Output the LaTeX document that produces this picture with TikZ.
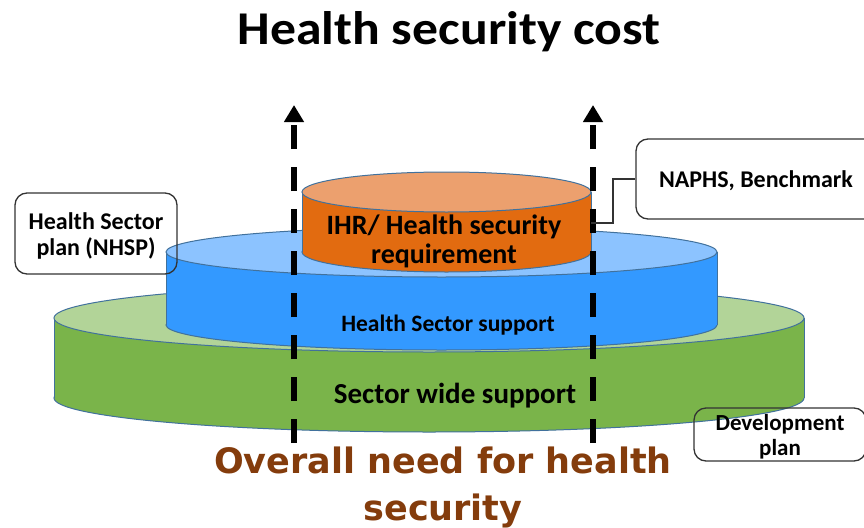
\documentclass[tikz,border=0pt]{standalone}
\usepackage{fontspec}
\setmainfont{Carlito}
\newfontfamily\wideb{DejaVu Sans}
\usetikzlibrary{arrows.meta}
\definecolor{edgec}{HTML}{41719C}
\definecolor{greenside}{HTML}{7AB44A}
\definecolor{greentop}{HTML}{B2D498}
\definecolor{blueside}{HTML}{3399FF}
\definecolor{bluetop}{HTML}{8CC3FF}
\definecolor{orangeside}{HTML}{E26B10}
\definecolor{orangetop}{HTML}{ECA06E}
\definecolor{brownt}{HTML}{843C0C}
\definecolor{boxline}{HTML}{333333}
\newcommand\mycyl[7]{%
  \filldraw[fill=#6,draw=edgec,line width=1pt] (#1,#5) ellipse [x radius=#2, y radius=#3];
  \fill[#6] ({#1-#2},#4) rectangle ({#1+#2},#5);
  \draw[edgec,line width=1pt] ({#1-#2},#4) -- ({#1-#2},#5) ({#1+#2},#4) -- ({#1+#2},#5);
  \filldraw[fill=#7,draw=edgec,line width=1pt] (#1,#4) ellipse [x radius=#2, y radius=#3];
}
\tikzset{
  callout/.style={draw=boxline,line width=1.3pt,rounded corners=12pt,inner sep=0pt,align=center},
  dasharrow/.style={line width=5.5pt,dash pattern=on 24pt off 18pt,-{Triangle[width=19pt,length=17pt]}},
  cyltext/.style={inner sep=0pt,anchor=base,align=center,font=\bfseries},
  conn/.style={draw=boxline,line width=1.2pt},
}
\begin{document}
\begin{tikzpicture}[x=1pt,y=-1pt]
\clip (0,0) rectangle (864,527);
\fill[white] (0,0) rectangle (864,527);
% title
\node[inner sep=0pt,anchor=base] (title) at (449,45) {\scalebox{1.1}[1]{\fontsize{47}{50}\selectfont\bfseries Health security cost}};
% cylinders
\mycyl{429}{375}{34}{318}{398}{greenside}{greentop}
\mycyl{441.5}{275.5}{25}{252}{325}{blueside}{bluetop}
\mycyl{446.5}{144.5}{20}{192}{252}{orangeside}{orangetop}
\coordinate (orR) at (591,223);
% cylinder texts
\node[cyltext,font=\fontsize{28}{29}\selectfont\bfseries] (ihr) at (444,263) {IHR/ Health security\\requirement};
\node[cyltext,font=\fontsize{23.5}{25}\selectfont\bfseries] (hss) at (448,331) {Health Sector support};
\node[cyltext,font=\fontsize{29}{30}\selectfont\bfseries] (sws) at (455,403) {Sector wide support};
% dashed arrows
\coordinate (lb) at (294,443); \coordinate (lt) at (294,105);
\coordinate (rb) at (593,443); \coordinate (rt) at (593,105);
\draw[dasharrow] (lb) -- (lt);
\draw[dasharrow] (rb) -- (rt);
% callouts
\node[callout,minimum width=162pt,minimum height=81pt] (nhsp) at (96,233.5) {};
\node[inner sep=0pt,anchor=base,align=center,font=\fontsize{24}{26}\selectfont\bfseries] (nhspt) at (96,255) {Health Sector\\plan (NHSP)};
\node[callout,minimum width=240pt,minimum height=80pt] (naphs) at (756,179) {};
\node[inner sep=0pt,anchor=base,font=\fontsize{24}{26}\selectfont\bfseries] (napht) at (756,187) {NAPHS, Benchmark};
\node[callout,minimum width=172pt,minimum height=53pt] (dev) at (780,434.5) {};
\node[inner sep=0pt,anchor=base,align=center,font=\fontsize{23}{25}\selectfont\bfseries] (devt) at (780,455) {Development\\plan};
\draw[conn] (orR) -- (613,223) |- (naphs.west);
% bottom text
\node[inner sep=0pt,anchor=base,align=center,text=brownt,font=\fontsize{35}{47}\selectfont\wideb\bfseries] (need) at (443,520) {Overall need for health\\security};
\end{tikzpicture}
\end{document}
